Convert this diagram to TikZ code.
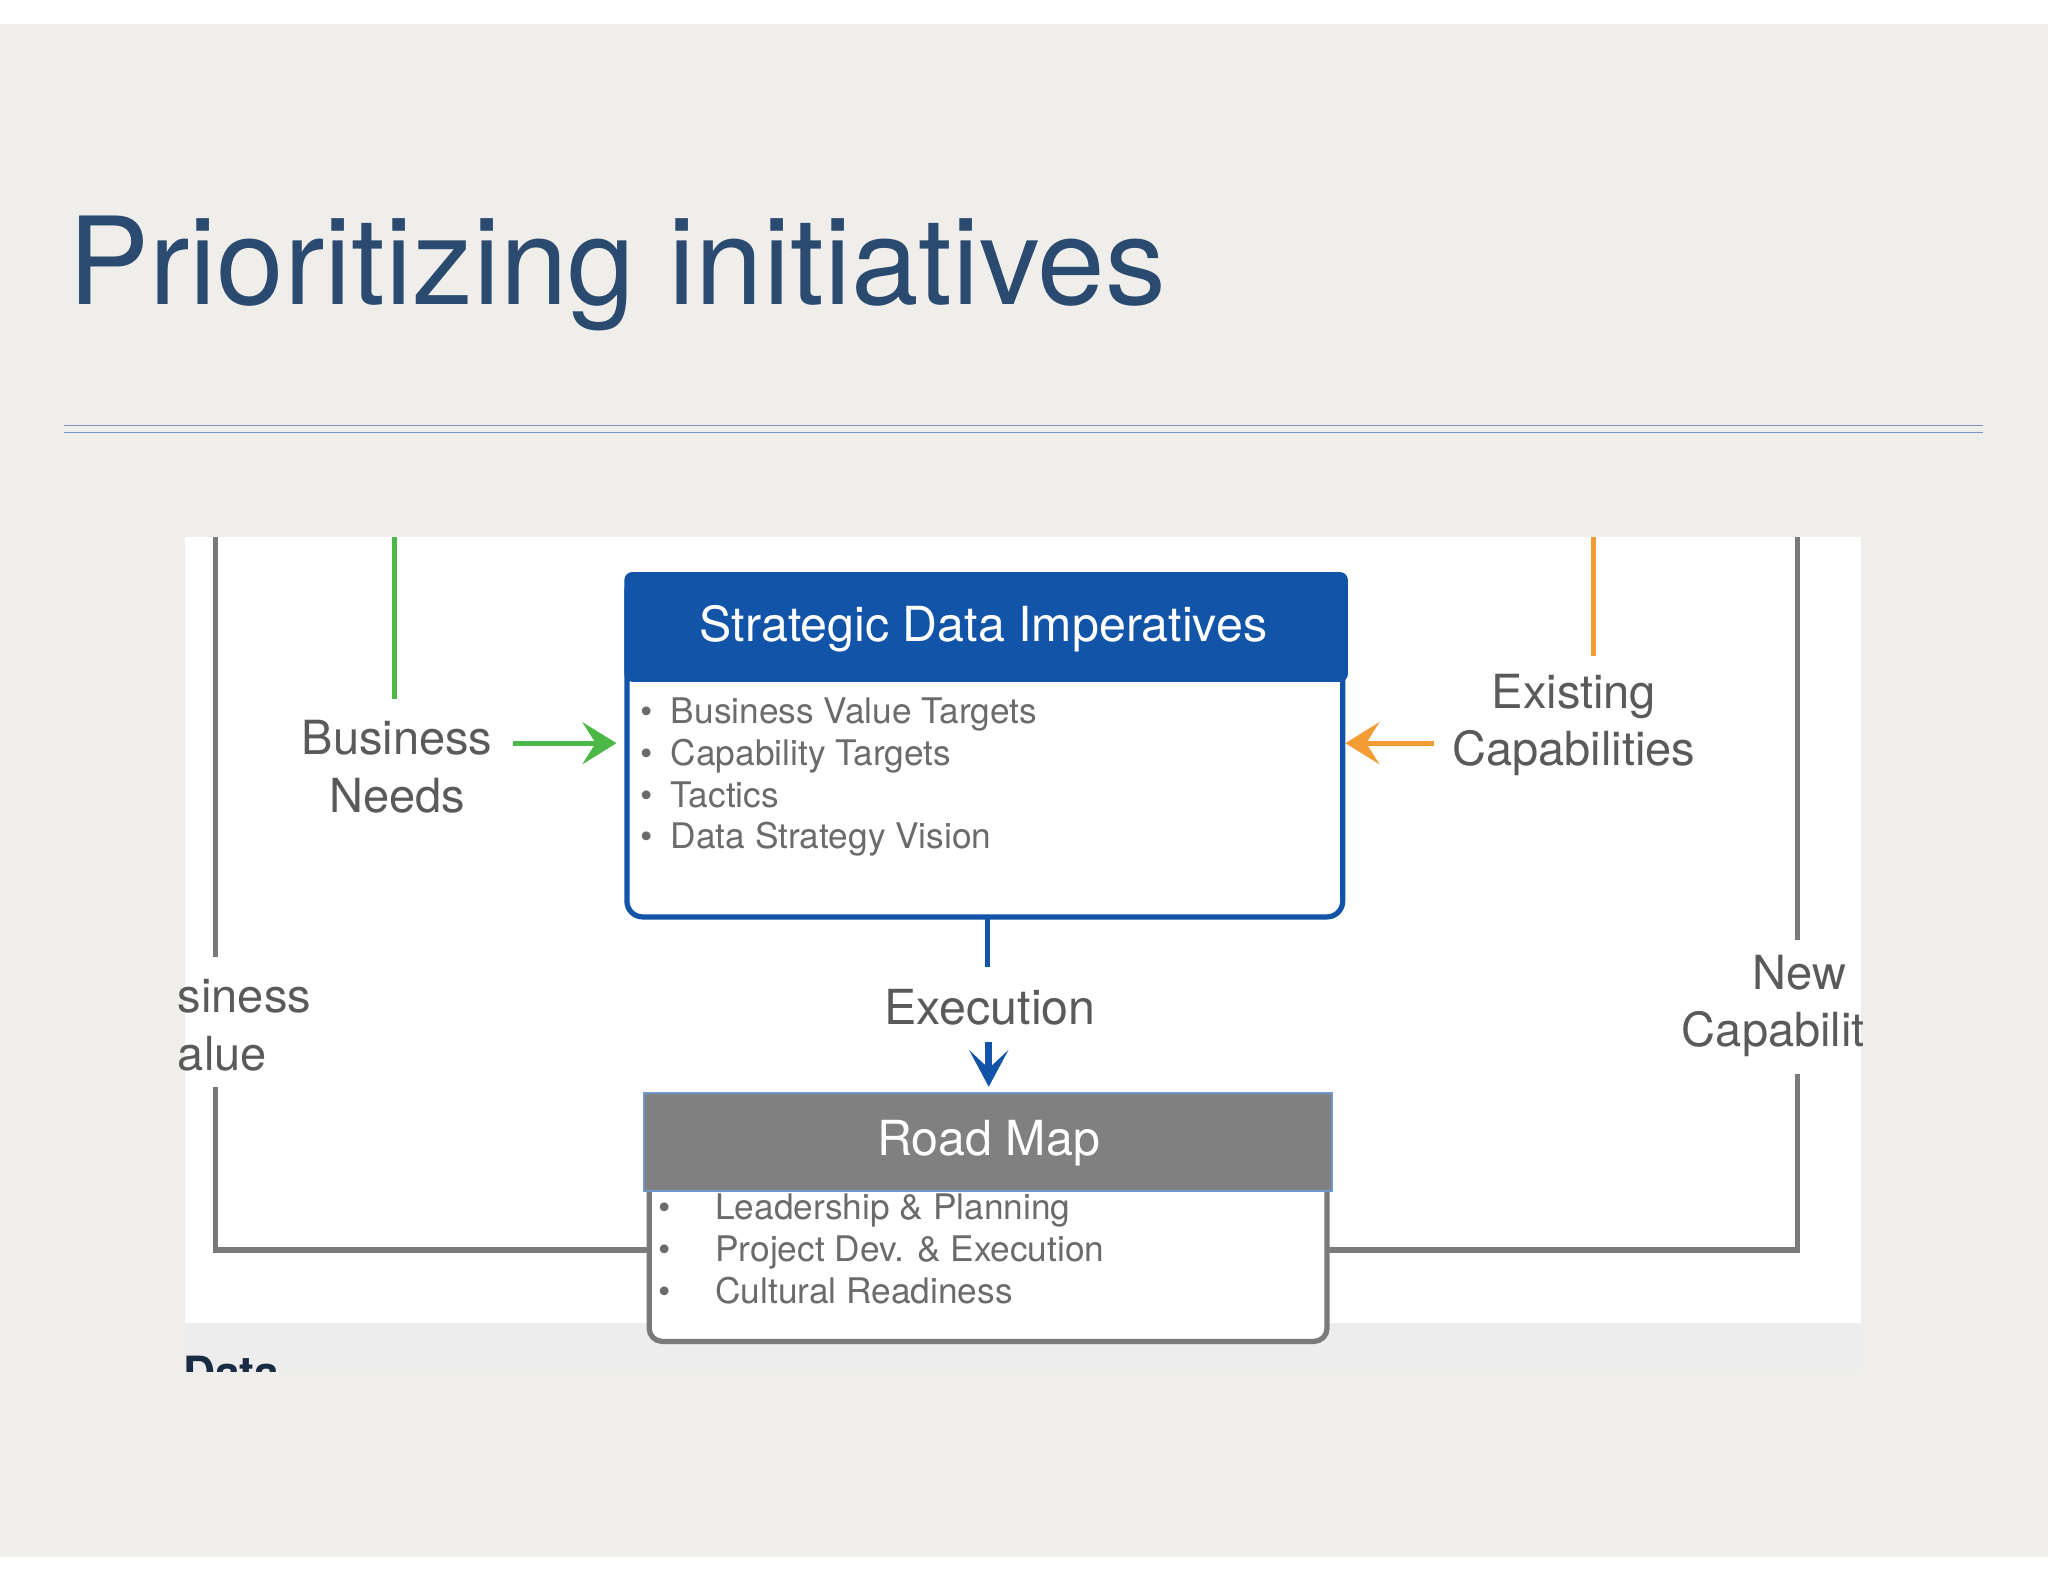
\documentclass[tikz,border=0pt]{standalone}
\usepackage{fontspec}
\setmainfont{TeX Gyre Heros}
\usetikzlibrary{arrows.meta}
\definecolor{bg}{HTML}{EFEEEA}
\definecolor{titlec}{HTML}{2B4A6F}
\definecolor{rulec}{HTML}{7A95C0}
\definecolor{sdiblue}{HTML}{1254A8}
\definecolor{framec}{HTML}{7A7A7A}
\definecolor{txt}{HTML}{5A5A5A}
\definecolor{greenc}{HTML}{4CB848}
\definecolor{orangec}{HTML}{F39C34}
\definecolor{rmgray}{HTML}{808080}
\tikzset{
  lbl/.style={text=txt,font=\fontsize{36}{44}\selectfont,align=center,inner sep=0pt},
  bul/.style={text=txt!90,font=\fontsize{27}{32}\selectfont,anchor=base west,inner sep=0pt},
  frame/.style={draw=framec,line width=4pt},
}
\begin{document}
\begin{tikzpicture}[x=1pt,y=-1pt]
\useasboundingbox (0,0) rectangle (1568,1211);
\fill[white] (0,0) rectangle (1568,1211);
\fill[bg] (0,18) rectangle (1568,1192);
\node[anchor=base west,inner sep=0pt,text=titlec,font=\fontsize{93}{110}\selectfont] (title) at (52,233) {Prioritizing initiatives};
\draw[rulec,line width=1pt] (49,326) -- (1518,326) (49,331) -- (1518,331);
% panel
\fill[white] (142,411) rectangle (1425,1050);
\fill[black!7] (142,1013) rectangle (1425,1050);
\begin{scope}
\clip (142,411) rectangle (1425,1050);
\node[anchor=base west,inner sep=0pt,text=titlec!60!black,font=\bfseries\fontsize{34}{40}\selectfont] (data) at (140,1063) {Data};
\end{scope}
% frame lines
\draw[frame] (165,411) -- (165,733);
\draw[frame] (165,832) -- (165,957) -- (495,957);
\draw[frame] (1376,411) -- (1376,720);
\draw[frame] (1376,822) -- (1376,957) -- (1015,957);
\draw[greenc,line width=4pt] (302,411) -- (302,535);
\draw[orangec,line width=4pt] (1220,411) -- (1220,502);
% side labels
\node[lbl,anchor=west,align=left] (bv) at (136,785) {siness\\alue};
\node[lbl,anchor=east,align=center] (nc) at (1428,770) {\hspace*{40pt}New\\Capabilit};
% SDI box
\draw[sdiblue,line width=4pt,rounded corners=12pt,fill=white] (480,440) rectangle (1028,702);
\fill[sdiblue,rounded corners=6pt] (478,438) rectangle (1032,522);
\node[text=white,font=\fontsize{37}{40}\selectfont,inner sep=0pt] (sdi) at (753,481) {Strategic Data Imperatives};
\foreach \t [count=\i] in {Business Value Targets,Capability Targets,Tactics,Data Strategy Vision}{
  \node[bul] (sb\i) at (490,522+32*\i) {\textbullet\hspace{14pt}\t};
}
\node[lbl] (bn) at (304,587) {Business\\Needs};
\node[lbl] (ec) at (1205,555) {Existing\\Capabilities};
\coordinate (gS) at (393,569); \coordinate (gE) at (472,569);
\draw[greenc,line width=4pt,-{Stealth[length=26pt,width=32pt,inset=10pt]}] (gS) -- (gE);
\coordinate (oS) at (1098,569); \coordinate (oE) at (1030,569);
\draw[orangec,line width=4pt,-{Stealth[length=26pt,width=32pt,inset=10pt]}] (oS) -- (oE);
% execution
\draw[sdiblue,line width=4pt] (756,703) -- (756,740);
\node[lbl,font=\fontsize{37}{44}\selectfont] (exe) at (758,771) {Execution};
\coordinate (aS) at (757,798); \coordinate (aE) at (757,832);
\draw[sdiblue,line width=5pt,-{Stealth[length=28pt,width=30pt,inset=14pt]}] (aS) -- (aE);
% road map
\draw[framec,line width=4pt,rounded corners=10pt,fill=white] (497,840) rectangle (1016,1027);
\fill[rmgray] (493,837) rectangle (1020,912);
\draw[sdiblue!60,line width=1.5pt] (493,837) rectangle (1020,912);
\node[text=white,font=\fontsize{37}{40}\selectfont,inner sep=0pt] (rm) at (757,875) {Road Map};
\foreach \t [count=\i] in {Leadership \& Planning,Project Dev. \& Execution,Cultural Readiness}{
  \node[bul] (rb\i) at (504,902+32*\i) {\textbullet\hspace{34pt}\t};
}
\end{tikzpicture}
\end{document}
